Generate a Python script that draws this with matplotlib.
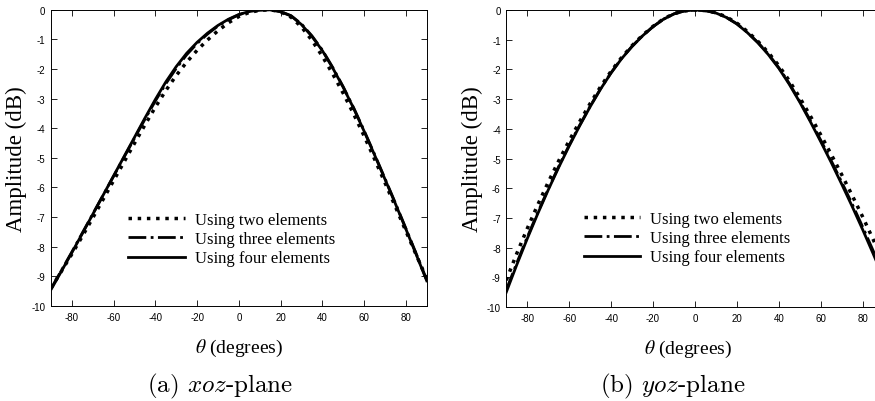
import matplotlib
matplotlib.use("Agg")
import matplotlib.pyplot as plt

plt.rcParams['axes.unicode_minus'] = False

theta = [-90, -85, -80, -75, -70, -65, -60, -55, -50, -45, -40, -35, -30,
         -25, -20, -15, -10, -5, 0, 5, 10, 15, 20, 25, 30, 35, 40, 45, 50,
         55, 60, 65, 70, 75, 80, 85, 90]

# xoz-plane
xoz_two = [-9.4, -8.83, -8.25, -7.65, -7.03, -6.4, -5.77, -5.14, -4.51, -3.89,
           -3.29, -2.73, -2.22, -1.77, -1.37, -1.02, -0.71, -0.44, -0.23, -0.09,
           -0.02, 0.0, -0.07, -0.25, -0.58, -1.03, -1.57, -2.17, -2.82, -3.52,
           -4.26, -5.04, -5.84, -6.65, -7.47, -8.28, -9.08]
xoz_three = [-9.42, -8.8, -8.18, -7.54, -6.9, -6.26, -5.62, -4.98, -4.34, -3.7,
             -3.08, -2.5, -1.98, -1.52, -1.14, -0.82, -0.55, -0.34, -0.17, -0.06,
             -0.01, 0.0, -0.06, -0.2, -0.48, -0.88, -1.36, -1.95, -2.6, -3.31,
             -4.08, -4.88, -5.7, -6.53, -7.38, -8.24, -9.12]
xoz_four = [-9.45, -8.83, -8.2, -7.56, -6.91, -6.26, -5.61, -4.96, -4.31, -3.66,
            -3.03, -2.44, -1.92, -1.47, -1.1, -0.79, -0.53, -0.32, -0.16, -0.06,
            -0.01, 0.0, -0.07, -0.21, -0.5, -0.9, -1.38, -1.97, -2.62, -3.33,
            -4.1, -4.9, -5.72, -6.55, -7.4, -8.27, -9.15]

# yoz-plane
yoz_two = [-9.1, -8.2, -7.36, -6.56, -5.8, -5.08, -4.4, -3.76, -3.15, -2.58,
           -2.06, -1.6, -1.2, -0.85, -0.55, -0.3, -0.12, -0.03, 0.0, -0.02,
           -0.09, -0.23, -0.44, -0.72, -1.05, -1.43, -1.87, -2.38, -2.95, -3.56,
           -4.2, -4.86, -5.54, -6.24, -6.96, -7.72, -8.5]
yoz_three = [-9.42, -8.52, -7.65, -6.82, -6.03, -5.27, -4.55, -3.88, -3.24, -2.65,
             -2.11, -1.63, -1.22, -0.87, -0.56, -0.31, -0.13, -0.03, 0.0, -0.02,
             -0.1, -0.25, -0.46, -0.75, -1.09, -1.48, -1.94, -2.47, -3.07, -3.71,
             -4.38, -5.07, -5.79, -6.53, -7.3, -8.1, -8.93]
yoz_four = [-9.5, -8.58, -7.7, -6.86, -6.06, -5.3, -4.58, -3.9, -3.26, -2.66,
            -2.12, -1.64, -1.23, -0.87, -0.56, -0.31, -0.13, -0.03, 0.0, -0.02,
            -0.1, -0.25, -0.47, -0.76, -1.1, -1.5, -1.96, -2.5, -3.1, -3.75,
            -4.43, -5.13, -5.86, -6.61, -7.39, -8.2, -9.03]

labels = ['Using two elements', 'Using three elements', 'Using four elements']
xticks = [-80, -60, -40, -20, 0, 20, 40, 60, 80]
yticks = [0, -1, -2, -3, -4, -5, -6, -7, -8, -9, -10]

fig = plt.figure(figsize=(8.75, 4.02), dpi=100)

# right axes runs past the figure edge, like the cropped original
ax1 = fig.add_axes([0.0582, 0.2363, 0.4295, 0.737])
ax2 = fig.add_axes([0.5786, 0.2338, 0.4312, 0.7388])

panels = [
    (ax1, xoz_two, xoz_three, xoz_four, 0.226, 0.5, '(a) $xoz$-plane', 220),
    (ax2, yoz_two, yoz_three, yoz_four, 0.232, 0.4816, '(b) $yoz$-plane', 673),
]

for ax, two, three, four, leg_y, xlab_x, caption, cap_x in panels:
    ax.plot(theta, two, color='black', linestyle=':', linewidth=2.5,
            label=labels[0])
    ax.plot(theta, three, color='black', linestyle='-.', linewidth=2,
            label=labels[1])
    ax.plot(theta, four, color='black', linestyle='-', linewidth=2,
            label=labels[2])

    ax.set_xlim(-90, 90)
    ax.set_ylim(-10, 0)
    ax.set_xticks(xticks)
    ax.set_yticks(yticks)
    ax.tick_params(direction='in', length=4, width=0.6, labelsize=7,
                   top=True, right=True, pad=4)
    for lab in ax.get_xticklabels() + ax.get_yticklabels():
        lab.set_fontfamily('Liberation Sans')
    for sp in ax.spines.values():
        sp.set_linewidth(0.7)

    ax.set_ylabel('Amplitude (dB)', fontfamily='Liberation Serif',
                  fontsize=16.5, labelpad=3)
    ax.set_xlabel(r'$\theta$ (degrees)', fontfamily='Liberation Serif',
                  fontsize=14, math_fontfamily='stix', labelpad=11)
    ax.xaxis.label.set_x(xlab_x)

    leg = ax.legend(loc='center left', bbox_to_anchor=(0.205, leg_y),
                    frameon=False, borderpad=0, borderaxespad=0,
                    handlelength=3.4, handletextpad=0.6, labelspacing=0.2,
                    prop={'family': 'Liberation Serif', 'size': 12})

    fig.text(cap_x / 875, 1 - 386 / 402, caption, ha='center', va='center',
             fontfamily='cmr10', math_fontfamily='cm', fontsize=18)

fig.savefig('out.png', dpi=100)
